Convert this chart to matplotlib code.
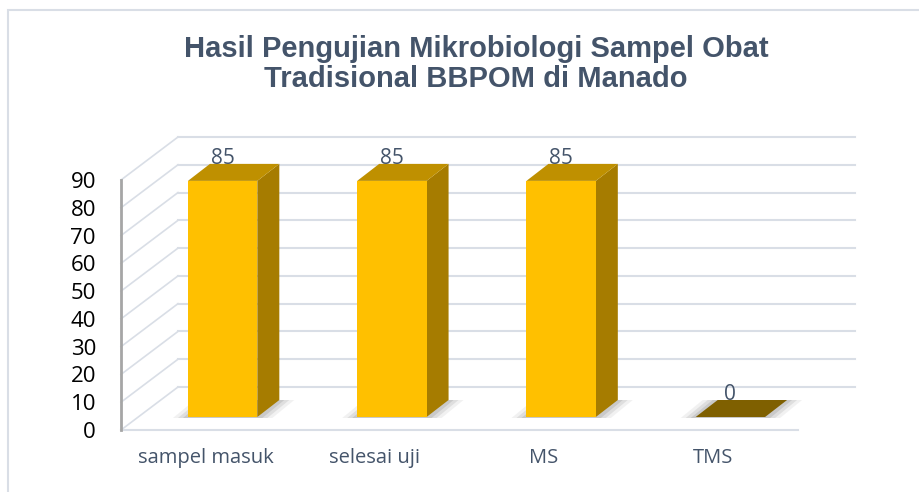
# Hasil Pengujian Mikrobiologi Sampel Obat Tradisional BBPOM di Manado (3D-look bar chart)

import matplotlib
matplotlib.use('Agg')
import matplotlib.pyplot as plt
from matplotlib.patches import Polygon, Rectangle
from matplotlib.transforms import offset_copy

# Data
categories = ['sampel masuk', 'selesai uji', 'MS', 'TMS']
values = [85, 85, 85, 0]
yticks = list(range(0, 100, 10))
title = 'Hasil Pengujian Mikrobiologi Sampel Obat\nTradisional BBPOM di Manado'

# Styles
front_col = '#FFC000'
side_col = '#A67C00'
top_col = '#BF9000'
zero_col = '#7F6000'
grid_col = '#D9DEE6'
text_col = '#44546A'
wall = (57, 43)      # depth of back wall, pixels
bar_off = (17, 13)   # front face of bars, pixels behind front plane
bar_depth = (22, 17)
bar_w = 0.41

fig = plt.figure(figsize=(9.2, 4.92), dpi=100)
ax = fig.add_axes([121 / 920, 62 / 492, 677 / 920, 250 / 492])
ax.set_xlim(-0.5, 3.5)
ax.set_ylim(0, 90)


def shifted(dx, dy):
    return offset_copy(ax.transData, fig=fig, x=dx, y=dy, units='dots')


def to_data(x, v, dx, dy):
    px = ax.transData.transform((x, v))
    return ax.transData.inverted().transform((px[0] + dx, px[1] + dy))


# back wall gridlines and left wall diagonals
for v in yticks:
    ax.plot([-0.5, 3.5], [v, v], transform=shifted(*wall), color=grid_col,
            lw=1.5, clip_on=False, zorder=1)
    bx, by = to_data(-0.5, v, *wall)
    ax.plot([-0.5, bx], [v, by], color=grid_col, lw=1.2, clip_on=False, zorder=1)
# floor front line
ax.plot([-0.5, 3.5], [0, 0], color=grid_col, lw=1.5, clip_on=False, zorder=1)

# bars
ox, oy = bar_off
dx, dy = bar_depth
for i, v in enumerate(values):
    l, r = i - bar_w / 2, i + bar_w / 2
    # soft shadow on the floor
    for e, a in [(15, 0.10), (10, 0.16), (5, 0.22)]:
        pts = [to_data(l, 0, ox - e, oy - 1), to_data(r, 0, ox + e, oy - 1),
               to_data(r, 0, ox + dx + e, oy + dy), to_data(l, 0, ox + dx - e, oy + dy)]
        ax.add_patch(Polygon(pts, closed=True, color='#7F7F7F', alpha=a, lw=0,
                             clip_on=False, zorder=2))
    if v > 0:
        side = [to_data(r, 0, ox, oy), to_data(r, v, ox, oy),
                to_data(r, v, ox + dx, oy + dy), to_data(r, 0, ox + dx, oy + dy)]
        ax.add_patch(Polygon(side, closed=True, color=side_col, lw=0,
                             clip_on=False, zorder=3))
    top = [to_data(l, v, ox, oy), to_data(r, v, ox, oy),
           to_data(r, v, ox + dx, oy + dy), to_data(l, v, ox + dx, oy + dy)]
    ax.add_patch(Polygon(top, closed=True, color=top_col if v > 0 else zero_col,
                         lw=0, clip_on=False, zorder=3))

ax.bar(range(len(values)), values, bar_w, color=front_col, lw=0,
       transform=shifted(ox, oy), clip_on=False, zorder=3)

# data labels
for i, v in enumerate(values):
    ax.text(i, v, str(v), transform=shifted(ox, oy + dy), ha='center',
            va='baseline', fontsize=15, family='Open Sans', color=text_col, zorder=4)

# axes styling
for s in ['top', 'right', 'bottom']:
    ax.spines[s].set_visible(False)
ax.spines['left'].set_color('#A6A6A6')
ax.spines['left'].set_linewidth(2)
ax.set_yticks(yticks)
ax.set_yticklabels([str(t) for t in yticks], family='Open Sans', fontsize=16, color='black')
ax.set_xticks(range(len(categories)))
ax.set_xticklabels(categories, family='Open Sans', fontsize=14.5, color=text_col)
ax.tick_params(axis='y', length=0, pad=18)
ax.tick_params(axis='x', length=0, pad=13)
ax.patch.set_visible(False)

# title
fig.text(476 / 920, 1 - 64 / 492, title, ha='center', va='center', fontsize=21,
         fontweight='bold', family='Liberation Sans', color=text_col, linespacing=1.1)

# chart frame
fig.patches.append(Rectangle((8 / 920, -0.1), 1.0, 0.1 + (492 - 10) / 492,
                             transform=fig.transFigure, fill=False,
                             ec=grid_col, lw=1.5))

fig.savefig('out.png', dpi=100)
